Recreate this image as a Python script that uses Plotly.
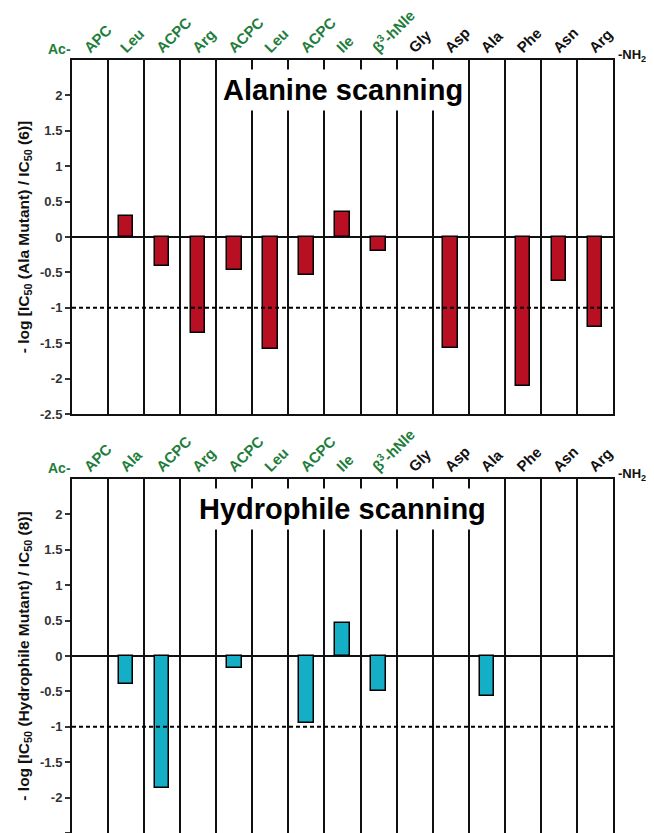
import plotly.graph_objects as go

# ---------------- data ----------------
labels_top = ["APC", "Leu", "ACPC", "Arg", "ACPC", "Leu", "ACPC", "Ile",
              "β<sup>3</sup>-hNle", "Gly", "Asp", "Ala", "Phe", "Asn", "Arg"]
labels_bot = ["APC", "Ala", "ACPC", "Arg", "ACPC", "Leu", "ACPC", "Ile",
              "β<sup>3</sup>-hNle", "Gly", "Asp", "Ala", "Phe", "Asn", "Arg"]
n_green = 9  # first residues drawn in green

ala_values = [None, 0.29, -0.41, -1.35, -0.47, -1.58, -0.53, 0.35,
              -0.20, None, -1.57, None, -2.11, -0.62, -1.27]
hyd_values = [None, -0.39, -1.87, None, -0.17, None, -0.94, 0.46,
              -0.49, None, None, -0.57, None, None, None]

ytick_vals = [-2.5, -2, -1.5, -1, -0.5, 0, 0.5, 1, 1.5, 2]
ytick_text = ["-2.5", "-2", "-1.5", "-1", "-0.5", "0", "0.5", "1", "1.5", "2"]
threshold = -1

title_top = "Alanine scanning"
title_bot = "Hydrophile scanning"
ytitle_top = "- log [IC<sub>50</sub> (Ala Mutant) / IC<sub>50</sub> (6)]"
ytitle_bot = "- log [IC<sub>50</sub> (Hydrophile Mutant) / IC<sub>50</sub> (8)]"

# ---------------- styling ----------------
FONT = "Liberation Sans, Arial, sans-serif"
GREEN = "#1f7d3c"
RED = "#b80f22"
CYAN = "#14afc6"

pos = list(range(1, len(labels_top) + 1))
bounds = [p - 0.5 for p in pos] + [pos[-1] + 0.5]


def colored(labels):
    out = []
    for i, t in enumerate(labels):
        c = GREEN if i < n_green else "#111111"
        out.append(f"<span style='color:{c}'>{t}</span>")
    return out


fig = go.Figure()
fig.add_trace(go.Bar(x=pos, y=ala_values, xaxis="x", yaxis="y", width=0.4,
                     marker=dict(color=RED, line=dict(color="black", width=1.5)),
                     showlegend=False))
fig.add_trace(go.Bar(x=pos, y=hyd_values, xaxis="x2", yaxis="y2", width=0.4,
                     marker=dict(color=CYAN, line=dict(color="black", width=1.5)),
                     showlegend=False))

dom_top = [0.542, 1.0]
dom_bot = [0.0, 0.458]


def xaxis_cfg(labels, anchor):
    return dict(
        anchor=anchor, side="top", range=[bounds[0], bounds[-1]],
        automargin=False,
        tickmode="array", tickvals=pos, ticktext=colored(labels),
        tickangle=-45, ticks="", showgrid=False, zeroline=False,
        ticklabelstandoff=-4, ticklabelshift=-5,
        showline=True, mirror=True, linecolor="#111111", linewidth=2,
        tickfont=dict(family=FONT, size=15, color="#111111", weight="bold"),
        minor=dict(tickmode="array", tickvals=bounds, showgrid=True,
                   gridcolor="#111111", gridwidth=2, ticks=""),
    )


def yaxis_cfg(domain, anchor, title):
    return dict(
        domain=domain, anchor=anchor, range=[-2.5, 2.5],
        automargin=False,
        tickmode="array", tickvals=ytick_vals, ticktext=ytick_text,
        ticks="outside", ticklen=5, tickwidth=1.5, tickcolor="#333333",
        showgrid=False, zeroline=True, zerolinecolor="#111111", zerolinewidth=2,
        showline=True, mirror=True, linecolor="#111111", linewidth=2,
        tickfont=dict(family=FONT, size=13, color="#333333", weight="bold"),
        title=dict(text=title, standoff=7,
                   font=dict(family=FONT, size=15.5, color="#111111", weight="bold")),
    )


# the page body adds an 8px offset; size the figure so it fills the window
fig.update_layout(
    width=646, height=825,
    margin=dict(l=64, r=41, t=52, b=0),
    paper_bgcolor="white", plot_bgcolor="white",
    bargap=0,
    xaxis=xaxis_cfg(labels_top, "y"),
    yaxis=yaxis_cfg(dom_top, "x", ytitle_top),
    xaxis2=xaxis_cfg(labels_bot, "y2"),
    yaxis2=yaxis_cfg(dom_bot, "x2", ytitle_bot),
)

# threshold dotted lines
for xr, yr in [("x", "y"), ("x2", "y2")]:
    fig.add_shape(type="line", xref=f"{xr} domain", yref=yr, x0=0, x1=1,
                  y0=threshold, y1=threshold, layer="above",
                  line=dict(color="black", width=2, dash="4px,3px"))

# panel titles (white boxes covering grid lines)
for xr, yr, txt in [("x", "y", title_top), ("x2", "y2", title_bot)]:
    fig.add_annotation(xref=xr, yref=yr, x=8, y=2.07, text=txt, showarrow=False,
                       bgcolor="white", borderpad=4,
                       font=dict(family=FONT, size=29, color="black", weight="bold"))

# Ac- and -NH2 end labels
for xr, yr_dom in [("x domain", "y domain"), ("x2 domain", "y2 domain")]:
    fig.add_annotation(xref=xr, yref=yr_dom, x=0, y=1, xanchor="right", yanchor="bottom",
                       yshift=1, xshift=1, text="Ac-", showarrow=False,
                       font=dict(family=FONT, size=14, color=GREEN, weight="bold"))
    fig.add_annotation(xref=xr, yref=yr_dom, x=1, y=1, xanchor="left", yanchor="bottom",
                       yshift=-6, xshift=3, text="-NH<sub>2</sub>", showarrow=False,
                       font=dict(family=FONT, size=13, color="#111111", weight="bold"))

fig.write_html("out.html")
